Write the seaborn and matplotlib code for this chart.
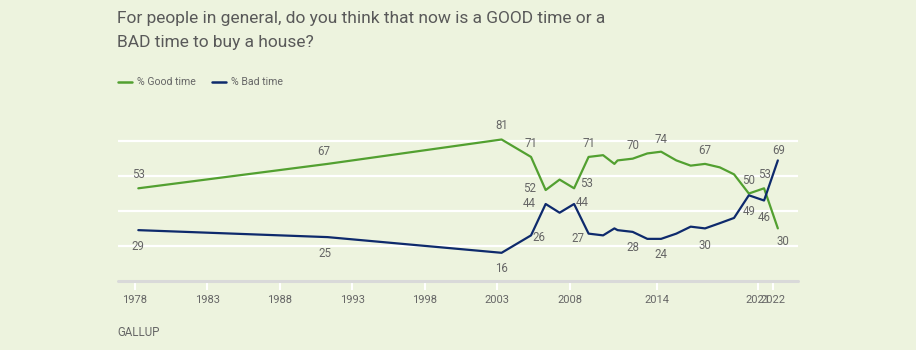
import matplotlib
matplotlib.use("Agg")
import matplotlib.pyplot as plt
import seaborn as sns
import pandas as pd

# ======  Gallup: good time / bad time to buy a house  ======

survey_year = [1978.25, 1991.3, 2003.3, 2005.33, 2006.34, 2007.3, 2008.3, 2009.3,
               2010.3, 2011.08, 2011.3, 2012.34, 2013.35, 2014.3, 2015.35, 2016.34,
               2017.33, 2018.35, 2019.33, 2020.35, 2021.4, 2022.35]
good_time = [53, 67, 81, 71, 52, 58, 53, 71, 72, 67, 69, 70, 73, 74, 69, 66, 67, 65, 61, 50, 53, 30]
bad_time = [29, 25, 16, 26, 44, 39, 44, 27, 26, 30, 29, 28, 24, 24, 27, 31, 30, 33, 36, 49, 46, 69]

tick_years = [1978, 1983, 1988, 1993, 1998, 2003, 2008, 2014, 2021, 2022]

# which points get a value label, and where the label sits (pixel offsets)
good_labels = {0: (0, 14), 1: (-4, 12), 2: (0, 14), 3: (0, 13), 4: (-16, 2), 6: (12, 5),
               7: (0, 13), 11: (0, 13), 13: (0, 12), 16: (0, 13), 19: (0, 13), 20: (0, 14),
               21: (5, -13)}
bad_labels = {0: (0, -16), 1: (-3, -16), 2: (0, -16), 3: (8, -2), 4: (-16, 0), 6: (8, 1),
              7: (-11, -5), 11: (0, -16), 13: (0, -16), 16: (0, -17), 19: (0, -16), 20: (0, -17),
              21: (1, 10)}

GREEN = "#52a030"
NAVY = "#0e2a6c"
BG = "#edf3de"
GREY = "#666666"

df = pd.DataFrame({"year": survey_year * 2,
                   "pct": good_time + bad_time,
                   "series": ["% Good time"] * len(good_time) + ["% Bad time"] * len(bad_time)})

sns.set_style("white")
plt.rcParams["font.family"] = ["Roboto", "DejaVu Sans"]

fig = plt.figure(figsize=(9.16, 3.5), dpi=100, facecolor=BG)
ax = fig.add_axes([118 / 916, 1 - 280.7 / 350, 680 / 916, 156.9 / 350])
ax.set_facecolor(BG)

for y in [20, 40, 60, 80]:
    ax.axhline(y, color="white", lw=1.6, zorder=0)
ax.axhline(0, color="#d9d9d9", lw=2.2, zorder=1, clip_on=False)

sns.lineplot(data=df, x="year", y="pct", hue="series",
             palette={"% Good time": GREEN, "% Bad time": NAVY},
             linewidth=1.6, ax=ax, legend=False, zorder=3)

for vals, labs in [(good_time, good_labels), (bad_time, bad_labels)]:
    for i, (dx, dy) in labs.items():
        ax.annotate(str(vals[i]), (survey_year[i], vals[i]), xytext=(dx, dy),
                    textcoords="offset pixels", ha="center", va="center",
                    fontsize=8.3, color=GREY, annotation_clip=False)

ax.set_xlim(1976.85, 2023.74)
ax.set_ylim(0, 90)
ax.set_xticks(tick_years)
ax.set_xticklabels([str(t) for t in tick_years], fontsize=8, color=GREY)
ax.set_yticks([])
ax.tick_params(axis="x", length=6.5, width=1.5, color="white", pad=4, bottom=True)
ax.set_xlabel("")
ax.set_ylabel("")
sns.despine(ax=ax, left=True, bottom=True)

fig.text(117 / 916, 1 - 19 / 350, "For people in general, do you think that now is a GOOD time or a",
         fontsize=12.5, color="#595959", va="center")
fig.text(117 / 916, 1 - 43 / 350, "BAD time to buy a house?",
         fontsize=12.5, color="#595959", va="center")

# legend drawn by hand, Gallup style
fig.add_artist(plt.Line2D([118 / 916, 132 / 916], [1 - 82 / 350] * 2, color=GREEN, lw=1.8))
fig.text(137 / 916, 1 - 82 / 350, "% Good time", fontsize=7.6, color=GREY, va="center")
fig.add_artist(plt.Line2D([212 / 916, 226 / 916], [1 - 82 / 350] * 2, color=NAVY, lw=1.8))
fig.text(231 / 916, 1 - 82 / 350, "% Bad time", fontsize=7.6, color=GREY, va="center")

fig.text(117 / 916, 1 - 332 / 350, "GALLUP", fontsize=8.3, color=GREY, va="center")

fig.savefig("out.png", dpi=100, facecolor=BG)
